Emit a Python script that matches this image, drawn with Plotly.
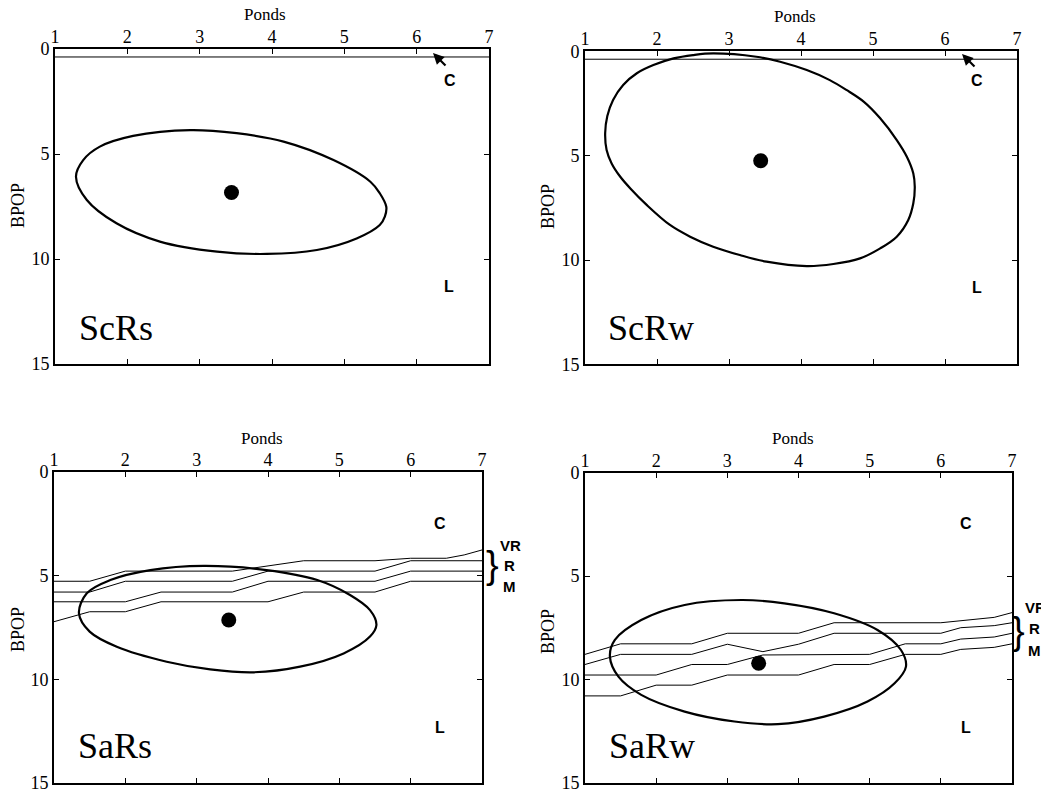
import plotly.graph_objects as go

W, H = 1041, 796

# ---------------- data ----------------
panels = ["ScRs", "ScRw", "SaRs", "SaRw"]
x_ticks = [1, 2, 3, 4, 5, 6, 7]
y_ticks = [0, 5, 10, 15]

ell_ScRs_x = [1.29, 1.39, 1.62, 2.08, 2.87, 3.51, 4.16, 4.85, 5.36, 5.49, 5.58, 5.56, 5.49, 5.17, 4.62, 3.93, 3.24, 2.45, 1.85, 1.44, 1.29]
ell_ScRs_y = [6.08, 5.29, 4.65, 4.14, 3.86, 4.01, 4.41, 5.29, 6.32, 6.87, 7.51, 7.98, 8.38, 9.02, 9.57, 9.76, 9.65, 9.17, 8.30, 7.19, 6.08]

ell_ScRw_x = [2.78, 3.38, 3.71, 4.08, 4.40, 4.63, 4.87, 5.10, 5.33, 5.47, 5.56, 5.58, 5.56, 5.49, 5.33, 5.10, 4.82, 4.45, 4.08,
              3.52, 3.15, 2.78, 2.46, 2.18, 1.86, 1.63, 1.49, 1.37, 1.30, 1.28, 1.31, 1.39, 1.53, 1.72, 1.95, 2.23, 2.50, 2.78]
ell_ScRw_y = [0.10, 0.26, 0.50, 0.90, 1.38, 1.85, 2.41, 3.21, 4.25, 5.05, 5.85, 6.49, 7.28, 8.08, 8.88, 9.44, 9.92, 10.19, 10.29,
              10.08, 9.76, 9.36, 8.88, 8.32, 7.37, 6.57, 6.01, 5.37, 4.73, 3.93, 3.10, 2.33, 1.61, 1.05, 0.66, 0.34, 0.18, 0.10]

ell_SaRs_x = [3.10, 3.98, 4.69, 5.15, 5.43, 5.52, 5.43, 5.06, 4.45, 3.80, 3.19, 2.58, 1.88, 1.50, 1.35, 1.46, 1.79, 2.35, 3.10]
ell_SaRs_y = [4.53, 4.73, 5.21, 5.93, 6.66, 7.38, 7.94, 8.75, 9.39, 9.66, 9.52, 9.15, 8.43, 7.70, 6.82, 5.85, 5.21, 4.73, 4.53]

ell_SaRw_x = [3.20, 3.80, 4.50, 5.11, 5.44, 5.51, 5.35, 4.97, 4.36, 3.71, 3.10, 2.40, 1.79, 1.47, 1.35, 1.42, 1.79, 2.40, 3.20]
ell_SaRw_y = [6.16, 6.32, 6.80, 7.61, 8.58, 9.38, 10.19, 11.07, 11.80, 12.17, 12.04, 11.56, 10.75, 9.87, 8.90, 8.09, 7.13, 6.40, 6.16]

centre_x = [3.44, 3.44, 3.45, 3.44]
centre_y = [6.83, 5.24, 7.14, 9.22]

c_line_x = [1, 7]
c_line_y = [0.38, 0.38]

# SaRs boundary lines
sars_l1_x = [1, 1.5, 2, 3.5, 4, 4.5, 5.5, 6, 6.5, 6.75, 7]
sars_l1_y = [5.27, 5.27, 4.78, 4.78, 4.53, 4.28, 4.28, 4.16, 4.16, 4.0, 3.76]
sars_l2_x = [1, 1.5, 2, 3.5, 4, 5.5, 6, 7]
sars_l2_y = [5.79, 5.79, 5.27, 5.27, 4.78, 4.78, 4.28, 4.28]
sars_l3_x = [1, 2, 2.5, 3.5, 4, 5.5, 6, 7]
sars_l3_y = [6.26, 6.26, 5.79, 5.79, 5.27, 5.27, 4.78, 4.78]
sars_l4_x = [1, 1.5, 2, 2.5, 4, 4.5, 5.5, 6, 7]
sars_l4_y = [7.22, 6.74, 6.74, 6.26, 6.26, 5.79, 5.79, 5.27, 5.27]

# SaRw boundary lines
sarw_l1_x = [1, 1.5, 2.5, 3.0, 4.0, 4.5, 6.0, 6.28, 6.75, 7]
sarw_l1_y = [8.79, 8.28, 8.28, 7.77, 7.77, 7.26, 7.26, 7.15, 7.0, 6.77]
sarw_l2_x = [1, 1.5, 2.5, 3.0, 3.5, 4.0, 4.5, 6.0, 6.28, 6.75, 7]
sarw_l2_y = [9.28, 8.79, 8.79, 8.30, 8.66, 8.30, 7.77, 7.77, 7.50, 7.40, 7.26]
sarw_l3_x = [1, 2, 2.5, 3.0, 3.5, 5.0, 5.5, 6.0, 6.28, 6.75, 7]
sarw_l3_y = [9.79, 9.79, 9.28, 9.28, 8.82, 8.79, 8.28, 8.28, 8.05, 7.95, 7.77]
sarw_l4_x = [1, 1.5, 2, 2.5, 3, 4, 4.5, 5, 5.5, 6, 6.28, 6.75, 7]
sarw_l4_y = [10.80, 10.80, 10.28, 10.28, 9.79, 9.79, 9.28, 9.28, 8.79, 8.79, 8.55, 8.45, 8.28]

# ---------------- layout helpers ----------------
# panel frames in pixels: (left, right, top, bottom)
frames = [(55, 489, 49, 364), (585, 1017, 51.3, 364.4), (54, 482, 472, 783), (585, 1012, 472.7, 782.7)]

def px(x):
    return x / W

def py(y):
    return 1 - y / H

fig = go.Figure()

serif = "Liberation Serif"
sans = "Liberation Sans"

ellipses = [(ell_ScRs_x, ell_ScRs_y), (ell_ScRw_x, ell_ScRw_y), (ell_SaRs_x, ell_SaRs_y), (ell_SaRw_x, ell_SaRw_y)]

axes = {}
for i, (l, r, t, b) in enumerate(frames):
    n = "" if i == 0 else str(i + 1)
    axes["xaxis" + n] = dict(domain=[px(l), px(r)], range=[1, 7], side="top", tickvals=x_ticks,
                             ticks="inside", ticklen=5, tickwidth=1, tickcolor="black", mirror="ticks",
                             showline=True, linewidth=2, linecolor="black", showgrid=False, zeroline=False,
                             tickfont=dict(family=serif, size=18, color="black"), anchor="y" + n,
                             fixedrange=True, automargin=False, ticklabelstandoff=-3)
    axes["yaxis" + n] = dict(domain=[py(b), py(t)], range=[15, 0], tickvals=y_ticks,
                             ticks="inside", ticklen=5, tickwidth=1, tickcolor="black", mirror="ticks",
                             showline=True, linewidth=2, linecolor="black", showgrid=False, zeroline=False,
                             tickfont=dict(family=serif, size=18, color="black"), anchor="x" + n,
                             fixedrange=True, automargin=False)

    ex, ey = ellipses[i]
    fig.add_trace(go.Scatter(x=ex, y=ey, mode="lines", xaxis="x" + n, yaxis="y" + n,
                             line=dict(color="black", width=2.2, shape="spline", smoothing=1.0),
                             showlegend=False, hoverinfo="skip"))
    fig.add_trace(go.Scatter(x=[centre_x[i]], y=[centre_y[i]], mode="markers", xaxis="x" + n, yaxis="y" + n,
                             marker=dict(color="black", size=15), showlegend=False, hoverinfo="skip"))

# thin C lines in top panels
for n in ["", "2"]:
    fig.add_trace(go.Scatter(x=c_line_x, y=c_line_y, mode="lines", xaxis="x" + n, yaxis="y" + n,
                             line=dict(color="black", width=1), showlegend=False, hoverinfo="skip"))

for lx, ly in [(sars_l1_x, sars_l1_y), (sars_l2_x, sars_l2_y), (sars_l3_x, sars_l3_y), (sars_l4_x, sars_l4_y)]:
    fig.add_trace(go.Scatter(x=lx, y=ly, mode="lines", xaxis="x3", yaxis="y3",
                             line=dict(color="black", width=1), showlegend=False, hoverinfo="skip"))
for lx, ly in [(sarw_l1_x, sarw_l1_y), (sarw_l2_x, sarw_l2_y), (sarw_l3_x, sarw_l3_y), (sarw_l4_x, sarw_l4_y)]:
    fig.add_trace(go.Scatter(x=lx, y=ly, mode="lines", xaxis="x4", yaxis="y4",
                             line=dict(color="black", width=1), showlegend=False, hoverinfo="skip"))

ann = []

def text(x, y, s, font, size, xanchor="center", yanchor="middle", angle=0, bold=False):
    ann.append(dict(x=px(x), y=py(y), xref="paper", yref="paper", text=("<b>%s</b>" % s) if bold else s,
                    showarrow=False, xanchor=xanchor, yanchor=yanchor, textangle=angle, borderpad=0,
                    font=dict(family=font, size=size, color="black")))

# axis titles
for (cx, cy) in [(265, 15), (795, 17), (262, 438), (793, 438)]:
    text(cx, cy, "Ponds", serif, 17)
for (cx, cy) in [(18, 206), (548, 207), (18, 630), (548, 632)]:
    text(cx, cy, "BPOP", serif, 18, angle=-90)

# panel names
for (lx, cy), name in zip([(78, 328), (607, 328), (77, 746), (608, 746)], panels):
    text(lx, cy, name, serif, 36, xanchor="left")

# C and L markers
for (cx, cy) in [(450, 80), (977, 80), (440, 523), (966, 523)]:
    text(cx, cy, "C", sans, 16, bold=True)
for (cx, cy) in [(449, 286), (977, 287), (440, 727), (966, 727)]:
    text(cx, cy, "L", sans, 16, bold=True)

# arrows pointing to C line
for (tx, ty, dx, dy) in [(433, 53, 14, 14), (962, 54, 14, 14)]:
    ann.append(dict(x=px(tx), y=py(ty), xref="paper", yref="paper", text="", showarrow=True,
                    ax=dx, ay=dy, arrowhead=2, arrowsize=1, arrowwidth=2.2, arrowcolor="black",
                    standoff=0))

# braces and zone labels
for (bx, by, lx, ys) in [(492, 565, 499, (545, 565, 586)), (1018, 631, 1024, (607, 628, 650))]:
    text(bx, by, "}", sans, 38)
    text(lx, ys[0], "VR", sans, 15, xanchor="left", bold=True)
    text(lx + 4, ys[1], "R", sans, 15, xanchor="left", bold=True)
    text(lx + 3, ys[2], "M", sans, 15, xanchor="left", bold=True)

fig.update_layout(width=W, height=H, margin=dict(l=0, r=0, t=0, b=0, pad=0, autoexpand=False),
                  font=dict(family=serif, color="black"),
                  paper_bgcolor="white", plot_bgcolor="white", annotations=ann, showlegend=False,
                  **axes)

fig.write_html("out.html", config={"displayModeBar": False, "staticPlot": True},
               post_script="document.body.style.margin='0px';document.body.style.overflow='hidden';")
